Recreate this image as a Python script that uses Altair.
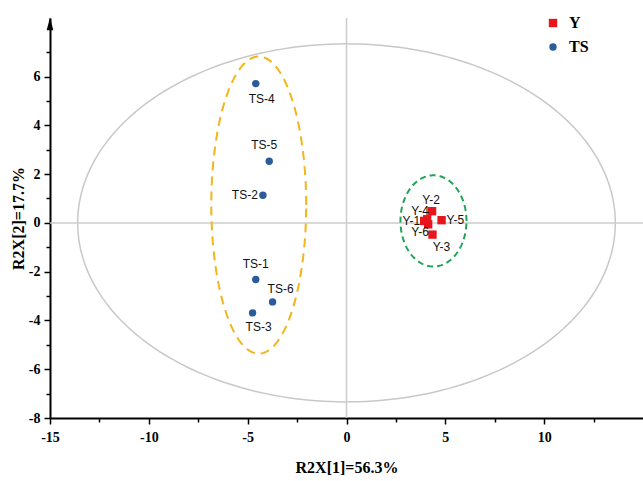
import altair as alt
import numpy as np
import pandas as pd

# ---- data ----
ts_names = ["TS-1", "TS-2", "TS-3", "TS-4", "TS-5", "TS-6"]
ts_x = [-4.59, -4.23, -4.75, -4.59, -3.91, -3.74]
ts_y = [-2.32, 1.13, -3.69, 5.71, 2.53, -3.24]

y_names = ["Y-1", "Y-2", "Y-3", "Y-4", "Y-5", "Y-6"]
y_x = [3.93, 4.33, 4.35, 4.08, 4.81, 4.13]
y_y = [0.08, 0.48, -0.48, 0.15, 0.11, -0.06]

# ellipses: (center x, center y, semi-axis x, semi-axis y)
hotelling = (0.0, 0.0, 13.6, 7.34)
ts_ellipse = (-4.44, 0.73, 2.40, 6.09)
y_ellipse = (4.40, 0.08, 1.67, 1.87)

x_ticks = [-15, -12.5, -10, -7.5, -5, -2.5, 0, 2.5, 5, 7.5, 10, 12.5]
y_ticks = [-8, -7, -6, -5, -4, -3, -2, -1, 0, 1, 2, 3, 4, 5, 6, 7]

# label placement (style): name -> (dx, dy, align)
label_place = {
    "TS-1": (0, -15, "center"), "TS-2": (-5, 0, "right"), "TS-3": (6, 14, "center"),
    "TS-4": (6, 15, "center"), "TS-5": (-5, -16, "center"), "TS-6": (8, -13, "center"),
    "Y-1": (-4, 0, "right"), "Y-2": (-1, -11, "center"), "Y-3": (9, 12, "center"),
    "Y-4": (-7, -8, "center"), "Y-5": (5, 0, "left"), "Y-6": (-8, 8, "center"),
}

points = pd.DataFrame({
    "name": ts_names + y_names,
    "x": ts_x + y_x,
    "y": ts_y + y_y,
    "group": ["TS"] * len(ts_names) + ["Y"] * len(y_names),
})

def ellipse_df(params, n=240):
    cx, cy, a, b = params
    t = np.linspace(0, 2 * np.pi, n)
    return pd.DataFrame({"x": cx + a * np.cos(t), "y": cy + b * np.sin(t), "o": np.arange(n)})

XDOM = [-15, 15]
YDOM = [-8, 8.4]
serif = "Liberation Serif"
sans = "Liberation Sans"

x_axis = alt.Axis(
    values=x_ticks, grid=False, title="R2X[1]=56.3%",
    labelExpr="datum.value % 5 === 0 ? toString(datum.value) : ''",
    labelFont=serif, labelFontWeight="bold", labelFontSize=14, labelColor="black",
    titleFont=serif, titleFontWeight="bold", titleFontSize=16, titleColor="black",
    domainColor="black", domainWidth=2, tickColor="black", tickWidth=1.5,
    tickSize=alt.condition("datum.value % 5 === 0", alt.value(6), alt.value(4)),
    labelPadding=6, titlePadding=15, labelFlush=False,
)
y_axis = alt.Axis(
    values=y_ticks, grid=False, title="R2X[2]=17.7%",
    labelExpr="datum.value % 2 === 0 ? toString(datum.value) : ''",
    labelFont=serif, labelFontWeight="bold", labelFontSize=14, labelColor="black",
    titleFont=serif, titleFontWeight="bold", titleFontSize=16, titleColor="black",
    domainColor="black", domainWidth=2, tickColor="black", tickWidth=1.5,
    tickSize=alt.condition("datum.value % 2 === 0", alt.value(6), alt.value(4)),
    labelPadding=4, titlePadding=2, labelFlush=False,
)

X = alt.X("x:Q", scale=alt.Scale(domain=XDOM, nice=False, zero=False), axis=x_axis)
Y = alt.Y("y:Q", scale=alt.Scale(domain=YDOM, nice=False, zero=False), axis=y_axis)

big = alt.Chart(ellipse_df(hotelling)).mark_line(color="#c8c8c8", strokeWidth=1.5).encode(
    x=X, y=Y, order="o:Q")
ts_el = alt.Chart(ellipse_df(ts_ellipse)).mark_line(
    color="#F2B51C", strokeWidth=2, strokeDash=[9, 6]).encode(x=X, y=Y, order="o:Q")
y_el = alt.Chart(ellipse_df(y_ellipse)).mark_line(
    color="#22A456", strokeWidth=2, strokeDash=[6, 4]).encode(x=X, y=Y, order="o:Q")

ref_df = pd.DataFrame({"x": [0.0], "y": [0.0]})
vline = alt.Chart(ref_df).mark_rule(color="#cccccc", strokeWidth=1.5).encode(
    x=X, y=alt.value(0), y2=alt.value("height"))
hline = alt.Chart(ref_df).mark_rule(color="#cccccc", strokeWidth=1.5).encode(
    y=Y, x=alt.value(0), x2=alt.value("width"))

pts = alt.Chart(points).mark_point(filled=True, opacity=1).encode(
    x=X, y=Y,
    color=alt.Color("group:N", scale=alt.Scale(domain=["Y", "TS"], range=["#E8161C", "#2B5B9B"]),
                    legend=alt.Legend(orient="none", legendX=495, legendY=-3, title=None,
                                      labelFont=serif, labelFontWeight="bold", labelFontSize=16,
                                      labelColor="black", symbolSize=70, rowPadding=8,
                                      labelOffset=8, symbolStrokeWidth=0)),
    shape=alt.Shape("group:N", scale=alt.Scale(domain=["Y", "TS"], range=["square", "circle"]),
                    legend=None),
    size=alt.Size("group:N", scale=alt.Scale(domain=["Y", "TS"], range=[70, 55]), legend=None),
)

labels = []
for nm, (dx, dy, al) in label_place.items():
    labels.append(
        alt.Chart(points).transform_filter(alt.datum.name == nm).mark_text(
            font=sans, fontSize=12, color="#111111", dx=dx, dy=dy, align=al, baseline="middle"
        ).encode(x=X, y=Y, text="name:N")
    )

arrow = alt.Chart(ref_df).mark_point(
    shape="M0,-1L0.38,0.5L-0.38,0.5Z", filled=True, color="black", size=300, opacity=1
).encode(x=alt.value(0), y=alt.value(8))

chart = alt.layer(big, vline, hline, ts_el, y_el, pts, *labels, arrow).properties(
    width=593, height=400,
    padding={"left": 50, "top": 18, "right": 0, "bottom": 63},
    autosize=alt.AutoSizeParams(type="none"),
).configure_view(stroke=None)

chart.save("out.html", embed_options={"renderer": "svg", "actions": False})
